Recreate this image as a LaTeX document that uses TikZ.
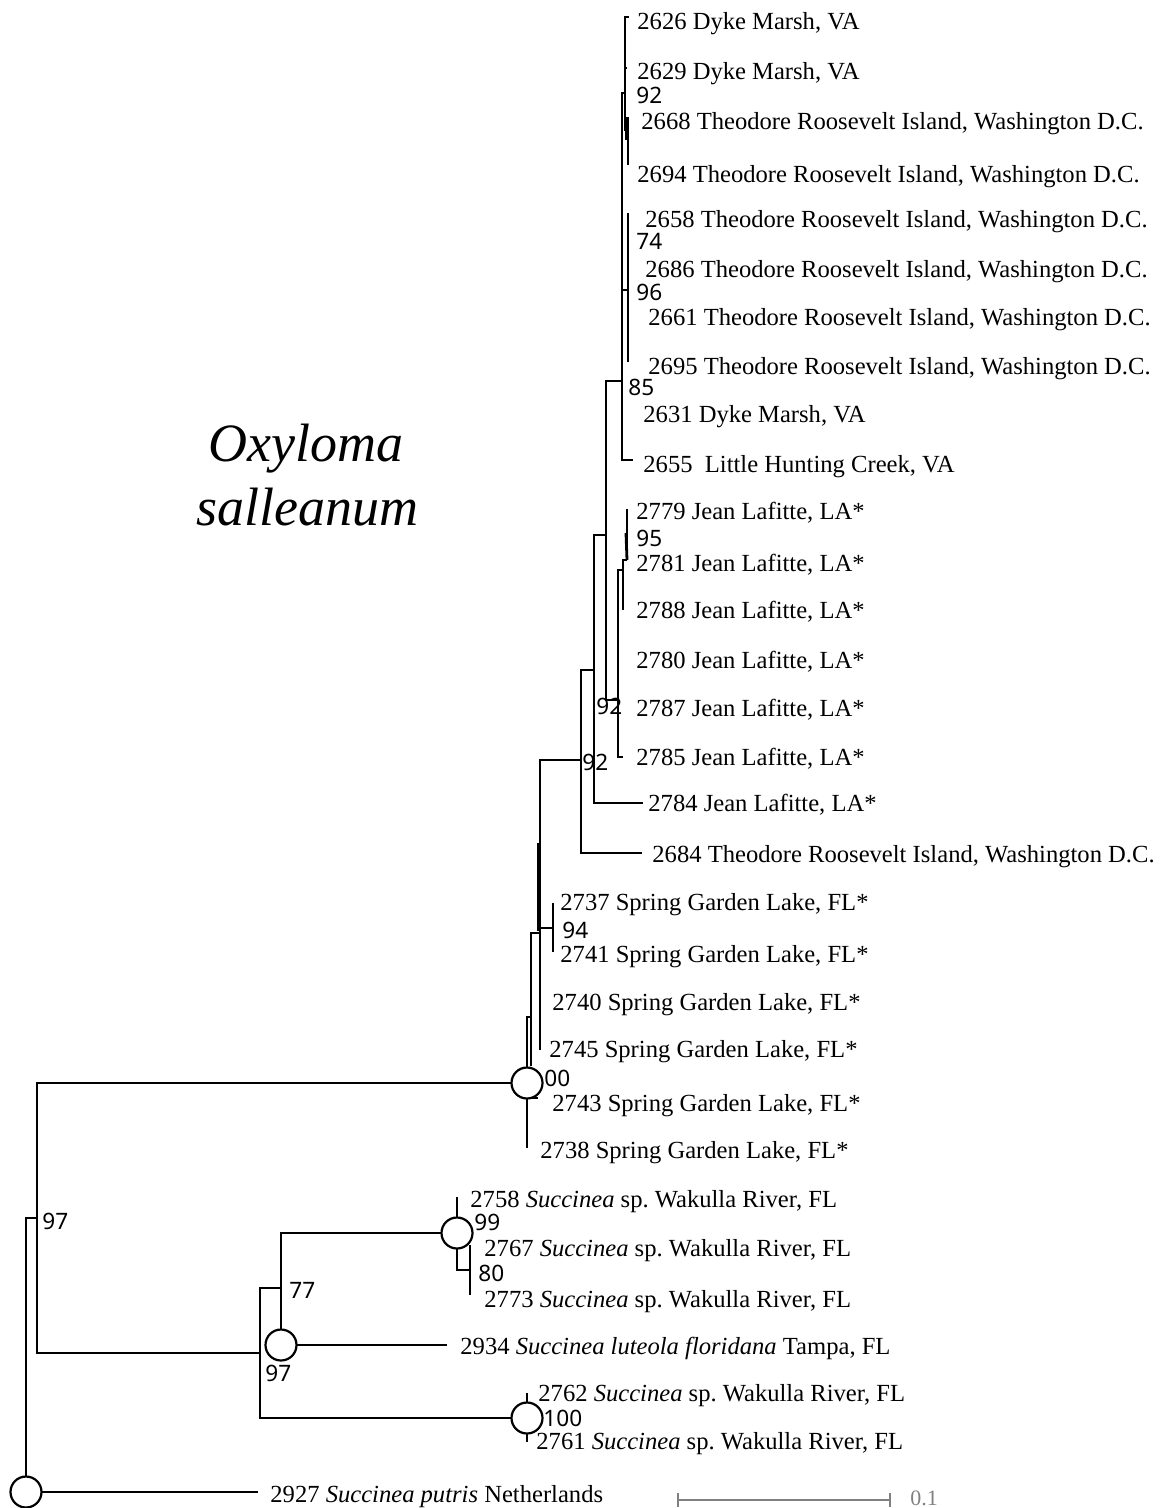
\documentclass[tikz,border=0pt]{standalone}
\usepackage{fontspec}
\setmainfont{Liberation Serif}
\newfontfamily\bsfont{Noto Sans}
\definecolor{sbar}{RGB}{128,128,128}
\begin{document}
\begin{tikzpicture}[x=0.5pt,y=-0.5pt,
 br/.style={line width=1.4pt},
 leaf/.style={anchor=base west,inner sep=0pt,font=\fontsize{12.3}{14}\selectfont},
 bs/.style={anchor=base west,inner sep=0pt,font=\bsfont\fontsize{11.3}{13}\selectfont},
 bcirc/.style={circle,draw,fill=white,line width=1.1pt,minimum size=15.5pt,inner sep=0pt},
 title/.style={anchor=base,inner sep=0pt,font=\itshape\fontsize{27}{30}\selectfont}]
\useasboundingbox (0,0) rectangle (1165,1508);
% internal nodes
\coordinate (R) at (26,1492);
\coordinate (N97) at (37,1218);
\coordinate (O) at (527,1083);
\coordinate (P) at (531,1017);
\coordinate (Pend) at (531,1066);
\coordinate (Q) at (540,933);
\coordinate (Qa) at (538,843);
\coordinate (Qb) at (538,931);
\coordinate (X94) at (553,928);
\coordinate (A) at (581,760);
\coordinate (B) at (594,670);
\coordinate (C) at (606,535);
\coordinate (D) at (622,381);
\coordinate (E) at (618,700);
\coordinate (F) at (623,570);
\coordinate (G) at (627,560);
\coordinate (Ga) at (626,533);
\coordinate (H) at (625,93);
\coordinate (I) at (628,130);
\coordinate (Ia) at (626,117);
\coordinate (Ib) at (626,140);
\coordinate (J) at (628,290);
\coordinate (S) at (260,1353);
\coordinate (T) at (281,1288);
\coordinate (V) at (457,1233);
\coordinate (W) at (470,1270);
\coordinate (U) at (527,1418);
% leaf tips
\coordinate (k2626) at (629,17);
\coordinate (k2629) at (627,68);
\coordinate (k2668) at (628,117);
\coordinate (k2694) at (628,165);
\coordinate (k2658) at (628,213);
\coordinate (k2686) at (628,266);
\coordinate (k2661) at (628,316);
\coordinate (k2695) at (628,362);
\coordinate (k2631) at (622,413);
\coordinate (k2655) at (633,460);
\coordinate (k2779) at (627,509);
\coordinate (k2781) at (627,560);
\coordinate (k2788) at (623,610);
\coordinate (k2780) at (618,660);
\coordinate (k2787) at (618,707);
\coordinate (k2785) at (623,757);
\coordinate (k2784) at (643,803);
\coordinate (k2684) at (642,853);
\coordinate (k2737) at (553,903);
\coordinate (k2741) at (553,952);
\coordinate (k2740) at (540,1002);
\coordinate (k2745) at (540,1050);
\coordinate (k2743) at (538,1098);
\coordinate (k2738) at (527,1148);
\coordinate (k2758) at (457,1197);
\coordinate (k2767) at (470,1245);
\coordinate (k2773) at (470,1295);
\coordinate (k2934) at (447,1345);
\coordinate (k2762) at (527,1393);
\coordinate (k2761) at (527,1442);
\coordinate (k2927) at (258,1492);
% branches
\draw[br] (R) |- (N97);
\draw[br] (R) |- (k2927);
\draw[br] (N97) |- (O);
\draw[br] (N97) |- (S);
\draw[br] (O) |- (P);
\draw[br] (O) |- (k2743);
\draw[br] (O) |- (k2738);
\draw[br] (P) |- (Q);
\draw[br] (P) -- (Pend);
\draw[br] (Q) |- (A);
\draw[br] (Q) |- (X94);
\draw[br] (Q) |- (k2740);
\draw[br] (Q) |- (k2745);
\draw[br] (Qa) -- (Qb);
\draw[br] (X94) |- (k2737);
\draw[br] (X94) |- (k2741);
\draw[br] (A) |- (B);
\draw[br] (A) |- (k2684);
\draw[br] (B) |- (C);
\draw[br] (B) |- (k2784);
\draw[br] (C) |- (D);
\draw[br] (C) |- (E);
\draw[br] (E) |- (F);
\draw[br] (E) |- (k2780);
\draw[br] (E) |- (k2787);
\draw[br] (E) |- (k2785);
\draw[br] (F) |- (G);
\draw[br] (F) |- (k2788);
\draw[br] (G) |- (k2779);
\draw[br] (G) |- (k2781);
\draw[br] (Ga) -- (G);
\draw[br] (D) |- (H);
\draw[br] (D) |- (J);
\draw[br] (D) |- (k2631);
\draw[br] (D) |- (k2655);
\draw[br] (H) |- (k2626);
\draw[br] (H) |- (k2629);
\draw[br] (H) |- (I);
\draw[br] (Ia) -- (Ib);
\draw[br] (I) |- (k2668);
\draw[br] (I) |- (k2694);
\draw[br] (J) |- (k2658);
\draw[br] (J) |- (k2686);
\draw[br] (J) |- (k2661);
\draw[br] (J) |- (k2695);
\draw[br] (S) |- (T);
\draw[br] (S) |- (U);
\draw[br] (T) |- (V);
\draw[br] (T) |- (k2934);
\draw[br] (V) |- (k2758);
\draw[br] (V) |- (W);
\draw[br] (W) |- (k2767);
\draw[br] (W) |- (k2773);
\draw[br] (U) |- (k2762);
\draw[br] (U) |- (k2761);
% node circles
\node[bcirc] (cR) at (R) {};
\node[bcirc] (cO) at (O) {};
\node[bcirc] (cV) at (V) {};
\node[bcirc] (cT) at (281,1345) {};
\node[bcirc] (cU) at (U) {};
% leaf labels
\node[leaf] (t2626) at (637,30) {2626 Dyke Marsh, VA};
\node[leaf] (t2629) at (637,80) {2629 Dyke Marsh, VA};
\node[leaf] (t2668) at (641,130) {2668 Theodore Roosevelt Island, Washington D.C.};
\node[leaf] (t2694) at (637,183) {2694 Theodore Roosevelt Island, Washington D.C.};
\node[leaf] (t2658) at (645,228) {2658 Theodore Roosevelt Island, Washington D.C.};
\node[leaf] (t2686) at (645,278) {2686 Theodore Roosevelt Island, Washington D.C.};
\node[leaf] (t2661) at (648,326) {2661 Theodore Roosevelt Island, Washington D.C.};
\node[leaf] (t2695) at (648,374) {2695 Theodore Roosevelt Island, Washington D.C.};
\node[leaf] (t2631) at (643,422) {2631 Dyke Marsh, VA};
\node[leaf] (t2655) at (643,472) {2655\ \ Little Hunting Creek, VA};
\node[leaf] (t2779) at (636,519) {2779 Jean Lafitte, LA*};
\node[leaf] (t2781) at (636,571) {2781 Jean Lafitte, LA*};
\node[leaf] (t2788) at (636,618) {2788 Jean Lafitte, LA*};
\node[leaf] (t2780) at (636,668) {2780 Jean Lafitte, LA*};
\node[leaf] (t2787) at (636,716) {2787 Jean Lafitte, LA*};
\node[leaf] (t2785) at (636,765) {2785 Jean Lafitte, LA*};
\node[leaf] (t2784) at (648,811) {2784 Jean Lafitte, LA*};
\node[leaf] (t2684) at (652,862) {2684 Theodore Roosevelt Island, Washington D.C.};
\node[leaf] (t2737) at (560,910) {2737 Spring Garden Lake, FL*};
\node[leaf] (t2741) at (560,962) {2741 Spring Garden Lake, FL*};
\node[leaf] (t2740) at (552,1010) {2740 Spring Garden Lake, FL*};
\node[leaf] (t2745) at (549,1057) {2745 Spring Garden Lake, FL*};
\node[leaf] (t2743) at (552,1111) {2743 Spring Garden Lake, FL*};
\node[leaf] (t2738) at (540,1158) {2738 Spring Garden Lake, FL*};
\node[leaf] (t2758) at (470,1207) {2758 \textit{Succinea} sp.\ Wakulla River, FL};
\node[leaf] (t2767) at (484,1256) {2767 \textit{Succinea} sp.\ Wakulla River, FL};
\node[leaf] (t2773) at (484,1307) {2773 \textit{Succinea} sp.\ Wakulla River, FL};
\node[leaf] (t2934) at (460,1354) {2934 \textit{Succinea luteola floridana} Tampa, FL};
\node[leaf] (t2762) at (538,1401) {2762 \textit{Succinea} sp.\ Wakulla River, FL};
\node[leaf] (t2761) at (536,1449) {2761 \textit{Succinea} sp.\ Wakulla River, FL};
\node[leaf] (t2927) at (270,1502) {2927 \textit{Succinea putris} Netherlands};
% support values
\node[bs] (b92a) at (636,104) {92};
\node[bs] (b74) at (636,250) {74};
\node[bs] (b96) at (636,301) {96};
\node[bs] (b85) at (628,395) {85};
\node[bs] (b95) at (636,546) {95};
\node[bs] (b92b) at (596,714) {92};
\node[bs] (b92c) at (582,770) {92};
\node[bs] (b94) at (562,938) {94};
\node[bs] (b00) at (544,1086) {00};
\node[bs] (b99) at (474,1230) {99};
\node[bs] (b80) at (478,1281) {80};
\node[bs] (b97a) at (42,1229) {97};
\node[bs] (b77) at (289,1298) {77};
\node[bs] (b97b) at (265,1381) {97};
\node[bs] (b100) at (543,1426) {100};
% title
\node[title] (ox1) at (306,461) {Oxyloma};
\node[title] (ox2) at (307,525) {salleanum};
% scale bar
\coordinate (sb1) at (678,1500);
\coordinate (sb2) at (890,1500);
\draw[sbar,line width=1pt] (sb1) -- (sb2);
\draw[sbar,line width=1pt] (sb1) ++(0,-7) -- ++(0,14);
\draw[sbar,line width=1pt] (sb2) ++(0,-7) -- ++(0,14);
\node[leaf,text=sbar,font=\fontsize{11}{13}\selectfont] (sbl) at (910,1505) {0.1};
\end{tikzpicture}
\end{document}
